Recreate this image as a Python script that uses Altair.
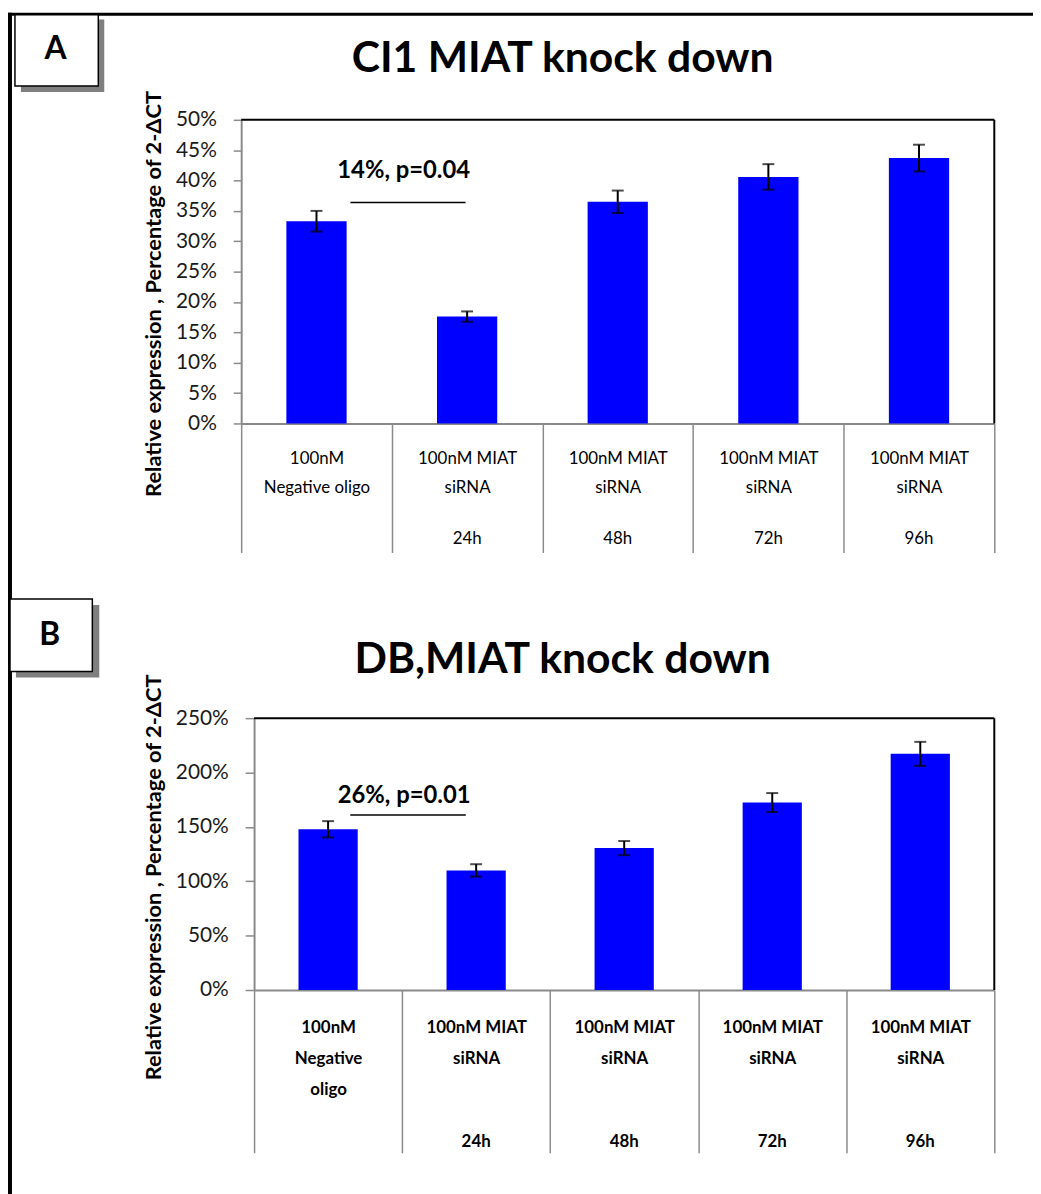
import altair as alt
import pandas as pd

FONT = "Lato"
BLUE = "#0000FF"
GRAY = "#8A8A8A"

# ---------------- data ----------------
cat_lines_a = [["100nM", "Negative oligo"], ["100nM MIAT", "siRNA"], ["100nM MIAT", "siRNA"],
               ["100nM MIAT", "siRNA"], ["100nM MIAT", "siRNA"]]
cat_lines_b = [["100nM", "Negative", "oligo"], ["100nM MIAT", "siRNA"], ["100nM MIAT", "siRNA"],
               ["100nM MIAT", "siRNA"], ["100nM MIAT", "siRNA"]]
time_labels = ["", "24h", "48h", "72h", "96h"]

values_a = [33.3, 17.6, 36.5, 40.6, 43.7]
errors_a = [1.7, 0.85, 1.85, 2.1, 2.2]
values_b = [147.8, 110.0, 130.5, 172.4, 217.2]
errors_b = [7.5, 5.7, 6.5, 8.7, 11.0]

yticks_a = [0, 5, 10, 15, 20, 25, 30, 35, 40, 45, 50]
yticks_b = [0, 50, 100, 150, 200, 250]

title_a = "CI1 MIAT knock down"
title_b = "DB,MIAT knock down"
letter_a = "A"
letter_b = "B"
y_title = "Relative expression , Percentage of 2-\u0394CT"

note_a = "14%, p=0.04"
note_a_level = 36.4
note_a_text_level = 41.6
note_b = "26%, p=0.01"
note_b_level = 161.0
note_b_text_level = 178.0

# ---------------- layout (page pixels) ----------------
O = (243, 116)          # top-left of panel A plot area
A_W, A_H = 759, 306
B_X0, B_Y0, B_Y1 = 256, 719, 993   # panel B plot area (left, top, bottom); right = 1002


def rx(px):
    return px - O[0]


def ry(py):
    return py - O[1]


def make_keys(lines_list, times):
    keys = []
    for lines, t in zip(lines_list, times):
        k = "|".join(lines)
        if t:
            k += "#" + t
        keys.append(k)
    return keys


one = alt.Data(values=[{"k": 1}])


def rect(x1, y1, x2, y2, **kw):
    return alt.Chart(one).mark_rect(**kw).encode(
        x=alt.value(rx(x1)), x2=alt.value(rx(x2)), y=alt.value(ry(y1)), y2=alt.value(ry(y2)))


def hrule(x1, x2, y, **kw):
    return alt.Chart(one).mark_rule(**kw).encode(x=alt.value(rx(x1)), x2=alt.value(rx(x2)), y=alt.value(ry(y)))


def vrule(x, y1, y2, **kw):
    return alt.Chart(one).mark_rule(**kw).encode(x=alt.value(rx(x)), y=alt.value(ry(y1)), y2=alt.value(ry(y2)))


def label(text, x, y, size):
    return alt.Chart(one).mark_text(text=text, font=FONT, fontSize=size, fontWeight="bold", color="black",
                                    baseline="middle", align="center").encode(
        x=alt.value(rx(x)), y=alt.value(ry(y)))


def panel(keys, values, errors, yticks, ymax, note, note_level, note_text_level, note_b0, note_b1,
          note_dx, x_range, y_range, x_offset, y_offset, bold_labels, tick_len, label_offset, line_h,
          time_offset, ytitle_xy, ylab_pad, ytick_size):
    df = pd.DataFrame({
        "cat": keys,
        "value": values,
        "lo": [v - e for v, e in zip(values, errors)],
        "hi": [v + e for v, e in zip(values, errors)],
    })
    weight = "bold" if bold_labels else "normal"
    xscale = alt.Scale(domain=keys, paddingInner=0, paddingOuter=0, range=x_range)
    yscale = alt.Scale(domain=[0, ymax], nice=False, zero=True, range=y_range)
    x_axis = alt.Axis(
        orient="bottom", offset=x_offset,
        title=None, labelAngle=0, tickBand="extent", tickSize=tick_len, tickColor=GRAY, tickWidth=1.5,
        domainColor=GRAY, domainWidth=2, labelExpr="split(split(datum.label, '#')[0], '|')",
        labelLineHeight=line_h, labelFont=FONT, labelFontSize=17, labelFontWeight=weight,
        labelColor="black", labelPadding=label_offset - tick_len, labelBaseline="top", labelLimit=0,
        labelAlign="center", labelOverlap=False)
    time_axis = alt.Axis(
        orient="bottom", offset=x_offset, values=[k for k in keys if "#" in k],
        title=None, labelAngle=0, ticks=False, domain=False,
        labelExpr="split(datum.label, '#')[1]", labelFont=FONT, labelFontSize=17, labelFontWeight=weight,
        labelColor="black", labelPadding=time_offset, labelBaseline="top", labelLimit=0,
        labelAlign="center", labelOverlap=False)
    y_axis = alt.Axis(
        orient="left", offset=y_offset,
        values=yticks, labelExpr="datum.value + '%'", grid=False, tickSize=ytick_size, tickColor=GRAY,
        tickWidth=1.5, domainColor=GRAY, domainWidth=2, labelFont=FONT, labelFontSize=21,
        labelColor="#1a1a1a", labelPadding=ylab_pad, labelOverlap=False,
        title=y_title, titleFont=FONT, titleFontSize=22,
        titleFontWeight="bold", titleColor="black", titleAngle=270,
        titleX=ytitle_xy[0], titleY=ytitle_xy[1], titleAlign="center", titleBaseline="middle")

    def X(field, axis=None, **kw):
        return alt.X(field, type="nominal", scale=xscale, axis=axis, **kw)

    def Y(field):
        return alt.Y(field, type="quantitative", scale=yscale, axis=y_axis)

    base = alt.Chart(df)
    bars = base.mark_bar(color=BLUE, width=alt.RelativeBandSize(0.4)).encode(
        x=X("cat", axis=x_axis), y=Y("value"))
    err = base.mark_rule(color="black", strokeWidth=2).encode(x=X("cat"), y=Y("lo"), y2="hi")
    cap_lo = base.mark_tick(color="black", thickness=2, size=12).encode(
        x=X("cat", axis=time_axis), y=Y("lo"))
    cap_hi = base.mark_tick(color="black", thickness=2, size=12).encode(x=X("cat"), y=Y("hi"))

    ndf = pd.DataFrame({"start": [keys[0]], "end": [keys[1]], "level": [note_level],
                        "tlevel": [note_text_level], "text": [note]})
    nbase = alt.Chart(ndf)
    nrule = nbase.mark_rule(color="black", strokeWidth=1.5).encode(
        x=X("start", bandPosition=note_b0),
        x2=alt.X2("end", bandPosition=note_b1),
        y=Y("level"))
    ntext = nbase.mark_text(font=FONT, fontSize=24, fontWeight="bold", color="black",
                            baseline="middle", align="center", dx=note_dx).encode(
        x=X("start", bandPosition=1.0), y=Y("tlevel"), text="text:N")
    return alt.layer(bars, err, cap_lo, cap_hi, nrule, ntext).resolve_axis(x="independent")


keys_a = make_keys(cat_lines_a, time_labels)
layer_a = panel(keys_a, values_a, errors_a, yticks_a, 50, note_a, note_a_level, note_a_text_level,
                0.725, 0.49, 12, x_range=[0, A_W], y_range=[A_H, 0], x_offset=0, y_offset=0,
                bold_labels=False, tick_len=130, label_offset=27, line_h=30, time_offset=108,
                ytitle_xy=(rx(155), ry(291)), ylab_pad=17, ytick_size=8)

keys_b = make_keys(cat_lines_b, time_labels)
layer_b = panel(keys_b, values_b, errors_b, yticks_b, 250, note_b, note_b_level, note_b_text_level,
                0.65, 0.43, 2, x_range=[rx(B_X0), A_W], y_range=[ry(B_Y1), ry(B_Y0)],
                x_offset=ry(B_Y1) - A_H, y_offset=-rx(B_X0),
                bold_labels=True, tick_len=164, label_offset=30, line_h=31, time_offset=145,
                ytitle_xy=(155 - B_X0, ry(879)), ylab_pad=17, ytick_size=9)

A_R = O[0] + A_W
decor = [
    # plot frames (top and right edges)
    hrule(O[0], A_R, O[1], color="black", strokeWidth=2),
    vrule(A_R, O[1], O[1] + A_H, color="black", strokeWidth=2),
    hrule(B_X0, A_R, B_Y0, color="black", strokeWidth=2),
    vrule(A_R, B_Y0, B_Y1, color="black", strokeWidth=2),
    # page border
    rect(8, 8, 12, 1210, color="black"),
    rect(8, 8, 1041, 11, color="black"),
    # panel A letter box
    rect(21, 15, 105, 88, color="#7F7F7F"),
    rect(15, 10, 99, 82, fill="white", stroke="black", strokeWidth=1.5),
    label(letter_a, 56, 45, 32),
    label(title_a, 567, 55, 43),
    # panel B letter box
    rect(16, 605, 100, 678, color="#7F7F7F"),
    rect(10, 599, 93, 672, fill="white", stroke="black", strokeWidth=1.5),
    label(letter_b, 50, 635, 32),
    label(title_b, 567, 660, 43),
]

chart = alt.layer(layer_a, layer_b, *decor).resolve_scale(
    x="independent", y="independent"
).properties(width=A_W, height=A_H, padding=0, background="white").configure_view(
    stroke="transparent", strokeWidth=0)

chart.save("out.html", embed_options={"renderer": "svg", "actions": False})
